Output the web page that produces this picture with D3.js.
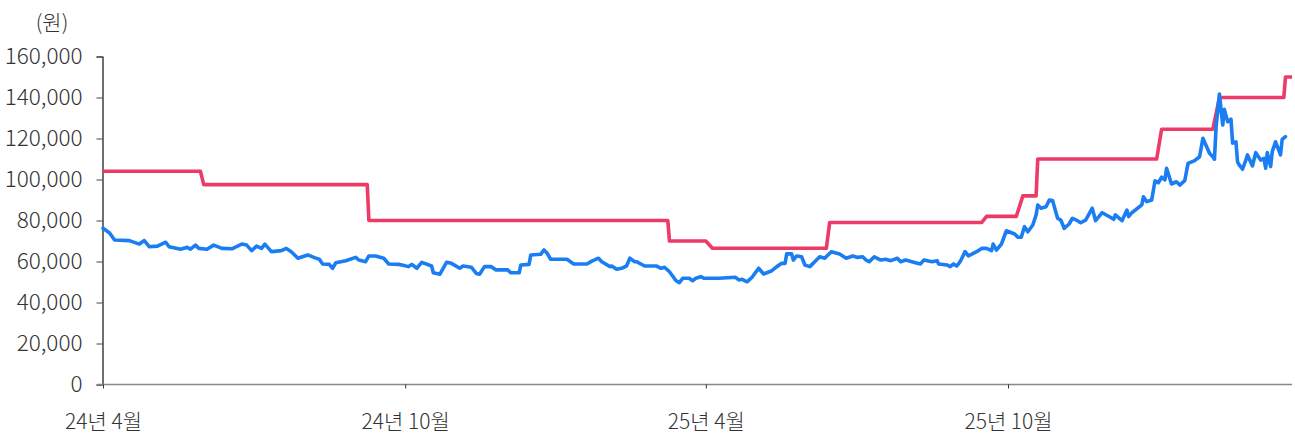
<!DOCTYPE html>
<html>
<head>
<meta charset="utf-8">
<script src="https://cdn.jsdelivr.net/npm/d3@7"></script>
<style>
  body { margin: 0; background: #fff; }
  text { font-family: "Noto Sans CJK KR", "Noto Sans", sans-serif; font-weight: 300; fill: #333; }
</style>
</head>
<body>
<div id="chart"></div>
<script>
// 주가 (blue)
const priceDates = [
  "2024-04-01","2024-04-05","2024-04-08","2024-04-17","2024-04-23","2024-04-26","2024-04-29","2024-05-04","2024-05-09","2024-05-11",
  "2024-05-18","2024-05-22","2024-05-24","2024-05-27","2024-05-29","2024-06-03","2024-06-07","2024-06-12","2024-06-18","2024-06-24",
  "2024-06-27","2024-06-30","2024-07-03","2024-07-06","2024-07-08","2024-07-12","2024-07-18","2024-07-21","2024-07-24","2024-07-28",
  "2024-08-03","2024-08-07","2024-08-10","2024-08-12","2024-08-16","2024-08-18","2024-08-20","2024-08-26","2024-09-01","2024-09-03",
  "2024-09-07","2024-09-09","2024-09-13","2024-09-18","2024-09-21","2024-09-27","2024-09-29","2024-10-03","2024-10-05","2024-10-08",
  "2024-10-11","2024-10-17","2024-10-18","2024-10-22","2024-10-26","2024-10-29","2024-11-03","2024-11-05","2024-11-10","2024-11-13",
  "2024-11-15","2024-11-18","2024-11-22","2024-11-25","2024-12-02","2024-12-04","2024-12-09","2024-12-10","2024-12-15","2024-12-16",
  "2024-12-22","2024-12-24","2024-12-26","2024-12-28","2025-01-07","2025-01-11","2025-01-19","2025-01-22","2025-01-26","2025-01-28",
  "2025-02-02","2025-02-03","2025-02-06","2025-02-09","2025-02-12","2025-02-14","2025-02-17","2025-02-18","2025-02-23","2025-03-02",
  "2025-03-05","2025-03-07","2025-03-10","2025-03-14","2025-03-16","2025-03-18","2025-03-22","2025-03-24","2025-03-26","2025-03-29",
  "2025-03-31","2025-04-09","2025-04-19","2025-04-21","2025-04-23","2025-04-26","2025-04-29","2025-05-03","2025-05-06","2025-05-11",
  "2025-05-14","2025-05-17","2025-05-19","2025-05-20","2025-05-23","2025-05-24","2025-05-26","2025-05-29","2025-05-31","2025-06-03",
  "2025-06-07","2025-06-09","2025-06-12","2025-06-16","2025-06-21","2025-06-25","2025-06-29","2025-07-02","2025-07-05","2025-07-07",
  "2025-07-09","2025-07-12","2025-07-16","2025-07-19","2025-07-22","2025-07-26","2025-07-28","2025-07-31","2025-08-06","2025-08-09",
  "2025-08-11","2025-08-16","2025-08-19","2025-08-20","2025-08-25","2025-08-27","2025-08-29","2025-08-31","2025-09-02","2025-09-05",
  "2025-09-07","2025-09-12","2025-09-15","2025-09-18","2025-09-21","2025-09-22","2025-09-24","2025-09-27","2025-09-30","2025-10-05",
  "2025-10-07","2025-10-09","2025-10-11","2025-10-13","2025-10-16","2025-10-18","2025-10-19","2025-10-21","2025-10-24","2025-10-26",
  "2025-10-28","2025-10-31","2025-11-02","2025-11-04","2025-11-07","2025-11-09","2025-11-12","2025-11-14","2025-11-17","2025-11-21",
  "2025-11-23","2025-11-27","2025-12-02","2025-12-04","2025-12-05","2025-12-09","2025-12-12","2025-12-13","2025-12-15","2025-12-21",
  "2025-12-22","2025-12-24","2025-12-27","2025-12-29","2025-12-31","2026-01-02","2026-01-04","2026-01-05","2026-01-08","2026-01-11",
  "2026-01-13","2026-01-16","2026-01-18","2026-01-22","2026-01-25","2026-01-27","2026-01-31","2026-02-02","2026-02-03","2026-02-04",
  "2026-02-06","2026-02-08","2026-02-09","2026-02-11","2026-02-13","2026-02-14","2026-02-16","2026-02-17","2026-02-18","2026-02-20",
  "2026-02-22","2026-02-23","2026-02-26","2026-02-28","2026-03-03","2026-03-05","2026-03-06","2026-03-07","2026-03-09","2026-03-10",
  "2026-03-12","2026-03-15","2026-03-16","2026-03-18"
];
const prices = [
  76200,73900,70500,70200,68500,70200,67200,67500,69400,67200,
  66000,66900,66000,68000,66400,66000,68000,66400,66200,68500,
  68000,65300,67500,66400,68500,64800,65300,66400,64800,61600,
  63200,61900,61100,58800,58600,56700,59400,60400,62000,60700,
  59900,62700,62700,61600,58800,58600,58300,57500,58600,56700,
  59600,57800,54500,53800,59600,59100,56700,57800,57200,54200,
  53800,57500,57500,55900,55900,54500,54500,58300,58600,63200,
  63500,65600,64000,61100,61100,58800,58800,60200,61600,59900,
  57500,57800,56200,56700,57800,61600,59900,59900,57800,57800,
  56700,57200,55000,50600,49700,51800,51800,50600,51800,52600,
  51800,51800,52300,51000,51300,50100,52300,56700,53900,55500,
  57500,59100,59100,63700,63700,60700,62700,62300,58300,57500,
  60700,62300,61600,64800,63700,61600,62700,62000,62300,60700,
  59900,62300,60700,61100,60400,61600,59900,60700,59400,58800,
  60700,59900,60400,58800,58300,57500,58800,57800,59900,64800,
  62700,64800,66400,66400,65300,68500,65600,68500,75000,73400,
  71800,71800,77000,74500,77800,82700,87600,86000,86700,90000,
  89700,81100,80200,76200,78300,81100,79900,78900,80200,86000,
  79900,83800,81600,80600,82700,79900,85100,81900,83800,87600,
  91600,89200,90000,99400,98400,101100,99800,105500,97800,98900,
  97300,99400,107900,109200,111100,120100,112800,111100,109900,125800,
  141700,126600,134200,128200,129400,117700,118400,108500,107100,105000,
  109500,112000,106600,113100,109500,110300,105500,113100,106300,113600,
  118400,112000,119600,120900
];

// 목표주가 (red)
const targetDates = [
  "2024-04-01","2024-05-30","2024-06-01","2024-09-08","2024-09-09","2025-03-09","2025-03-10","2025-04-01","2025-04-05",
  "2025-06-13","2025-06-15","2025-09-15","2025-09-18","2025-10-06","2025-10-10","2025-10-18","2025-10-19","2025-12-30",
  "2026-01-02","2026-02-02","2026-02-06","2026-03-17","2026-03-18","2026-03-22"
];
const targets = [
  104000,104000,97500,97500,80000,80000,70000,70000,66500,
  66500,79000,79000,82000,82000,92000,92000,110000,110000,
  124500,124500,140000,140000,150000,150000
];

const yTicks = [0, 20000, 40000, 60000, 80000, 100000, 120000, 140000, 160000];
const xTickDates = ["2024-04-01", "2024-10-01", "2025-04-01", "2025-10-01"];
const xTickLabels = ["24년 4월", "24년 10월", "25년 4월", "25년 10월"];

const width = 1295, height = 435;
const parse = d3.timeParse("%Y-%m-%d");

const svg = d3.select("#chart").append("svg")
  .attr("width", width)
  .attr("height", height);

// 2024-04-01 -> 103px, 1.6515px per day
const x = d3.scaleTime()
  .domain([parse("2024-04-01"), parse("2026-03-22")])
  .range([103, 103 + 720 * 1.6515]);

const y = d3.scaleLinear()
  .domain([0, 160000])
  .range([384.5, 56.5]);

// y axis
const yAxis = svg.append("g")
  .attr("transform", "translate(102.5,0)")
  .call(d3.axisLeft(y).tickValues(yTicks).tickSize(6).tickPadding(14)
    .tickFormat(d3.format(",")));
yAxis.select(".domain").attr("stroke", "#111").attr("stroke-width", 1.2);
yAxis.selectAll(".tick line").attr("stroke", "#444");
yAxis.selectAll(".tick text").attr("font-size", 22.5).attr("fill", "#333")
  .attr("font-family", null);

// x axis
const xAxis = svg.append("g")
  .attr("transform", "translate(0,384.5)")
  .call(d3.axisBottom(x).tickValues(xTickDates.map(parse)).tickSize(4)
    .tickFormat((d, i) => xTickLabels[i]));
xAxis.select(".domain").attr("d", "M97,0H1292").attr("stroke", "#888").attr("stroke-width", 1.6);
xAxis.selectAll(".tick line").attr("stroke", "#333");
xAxis.selectAll(".tick text").attr("font-size", 21).attr("fill", "#333")
  .attr("font-family", null).attr("y", 30);

svg.append("text")
  .attr("x", 52)
  .attr("y", 30)
  .attr("text-anchor", "middle")
  .attr("font-size", 21)
  .text("(원)");

const line = d3.line()
  .x(d => x(d[0]))
  .y(d => y(d[1]));

const targetData = targetDates.map((d, i) => [parse(d), targets[i]]);
const priceData = priceDates.map((d, i) => [parse(d), prices[i]]);

svg.append("path")
  .datum(targetData)
  .attr("fill", "none")
  .attr("stroke", "#ec3b66")
  .attr("stroke-width", 3.6)
  .attr("stroke-linejoin", "round")
  .attr("d", line);

svg.append("path")
  .datum(priceData)
  .attr("fill", "none")
  .attr("stroke", "#1a7ef2")
  .attr("stroke-width", 3.6)
  .attr("stroke-linejoin", "round")
  .attr("stroke-linecap", "round")
  .attr("d", line);
</script>
</body>
</html>
